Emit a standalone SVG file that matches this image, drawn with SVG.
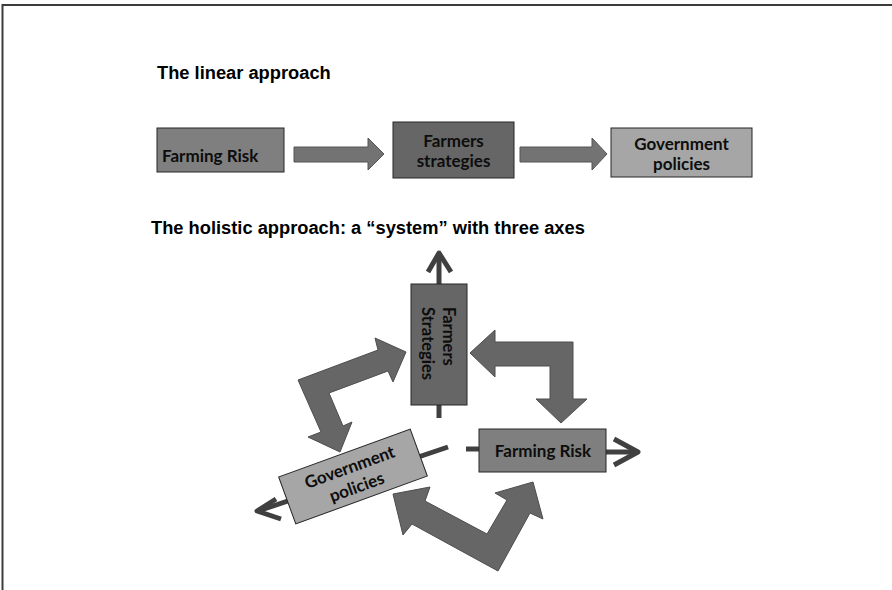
<svg xmlns="http://www.w3.org/2000/svg" width="892" height="590" viewBox="0 0 892 590">
<style>
.frame{fill:none;stroke:#3c3c3c}
.box{stroke:#262626;stroke-width:1}
.dark{fill:#666666}
.mid{fill:#7f7f7f}
.light{fill:#a6a6a6}
.lbl{font-family:Lato,"Open Sans","Noto Sans",sans-serif;font-weight:bold;font-size:17px;fill:#0d0d0d}
.title{font-family:"Liberation Sans",Arial,sans-serif;font-weight:bold;font-size:18.3px;fill:#000}
.flat{fill:#737373;stroke:#555555;stroke-width:1}
.blk{fill:#666666;stroke:#4d4d4d;stroke-width:1;stroke-linejoin:miter}
.axis{fill:none;stroke:#404040;stroke-width:5;stroke-linecap:butt;stroke-linejoin:round}
</style>
<rect width="892" height="590" fill="#ffffff"/>
<path class="frame" d="M2.5,590 V5 H892" stroke-width="2"/>

<text class="title" x="157" y="79">The linear approach</text>
<text class="title" x="151" y="234">The holistic approach: a “system” with three axes</text>

<g id="connectors">
  <polygon class="flat" points="294,147 368,147 368,138 384,154 368,170 368,162 294,162"/>
  <polygon class="flat" points="520,147 592,147 592,138 607,154 592,170 592,162 520,162"/>
  <path class="axis" d="M439,418 V254"/>
  <path class="axis" d="M428,272 L439,253 L451,272"/>
  <path class="axis" d="M466,449 H482"/>
  <path class="axis" d="M604,452 H637" stroke-width="6"/>
  <path class="axis" d="M614,439 L638,452 L614,465" stroke-width="6"/>
  <path class="axis" d="M448,447 L258,511"/>
  <path class="axis" d="M276,499 L257,511 L281,519"/>
  <polygon class="blk" points="470,353 495,330 495,342 573,342 573,399 587,399 561,423 536,399 550,399 550,366 495,366 495,377"/>
  <polygon class="blk" points="375,338 406,352 393,382 388,371 329,393 343,426 352,422 340,452 308,437 321,432 298,380 378,350"/>
  <polygon class="blk" points="393,494 430,487 425,501 487,534 507,500 495,493 533,482 543,519 530,513 498,571 412,524 403,535"/>
</g>

<g id="lin-farming-risk">
  <rect class="box mid" x="157" y="128" width="127" height="44"/>
  <text class="lbl" x="162" y="162">Farming Risk</text>
</g>
<g id="lin-farmers-strategies">
  <rect class="box dark" x="393" y="122" width="121" height="56"/>
  <text class="lbl" x="453.5" y="147" text-anchor="middle">Farmers</text>
  <text class="lbl" x="453.5" y="167" text-anchor="middle">strategies</text>
</g>
<g id="lin-government-policies">
  <rect class="box light" x="611" y="128" width="141" height="49"/>
  <text class="lbl" x="681.5" y="150" text-anchor="middle">Government</text>
  <text class="lbl" x="681.5" y="170" text-anchor="middle">policies</text>
</g>

<g id="hol-farmers-strategies">
  <rect class="box dark" x="411" y="284" width="56" height="121"/>
  <g transform="translate(439,307) rotate(90)">
    <text class="lbl" x="0" y="-4" style="font-size:16.5px">Farmers</text>
    <text class="lbl" x="0" y="17" style="font-size:16.5px">Strategies</text>
  </g>
</g>
<g id="hol-farming-risk">
  <rect class="box mid" x="479" y="429" width="127" height="43"/>
  <text class="lbl" x="543" y="457" text-anchor="middle">Farming Risk</text>
</g>
<g id="hol-government-policies" transform="translate(353,476.5) rotate(-20)">
  <rect class="box light" x="-70" y="-25" width="140" height="50"/>
  <text class="lbl" x="0" y="-4" text-anchor="middle">Government</text>
  <text class="lbl" x="0" y="17" text-anchor="middle">policies</text>
</g>
</svg>
